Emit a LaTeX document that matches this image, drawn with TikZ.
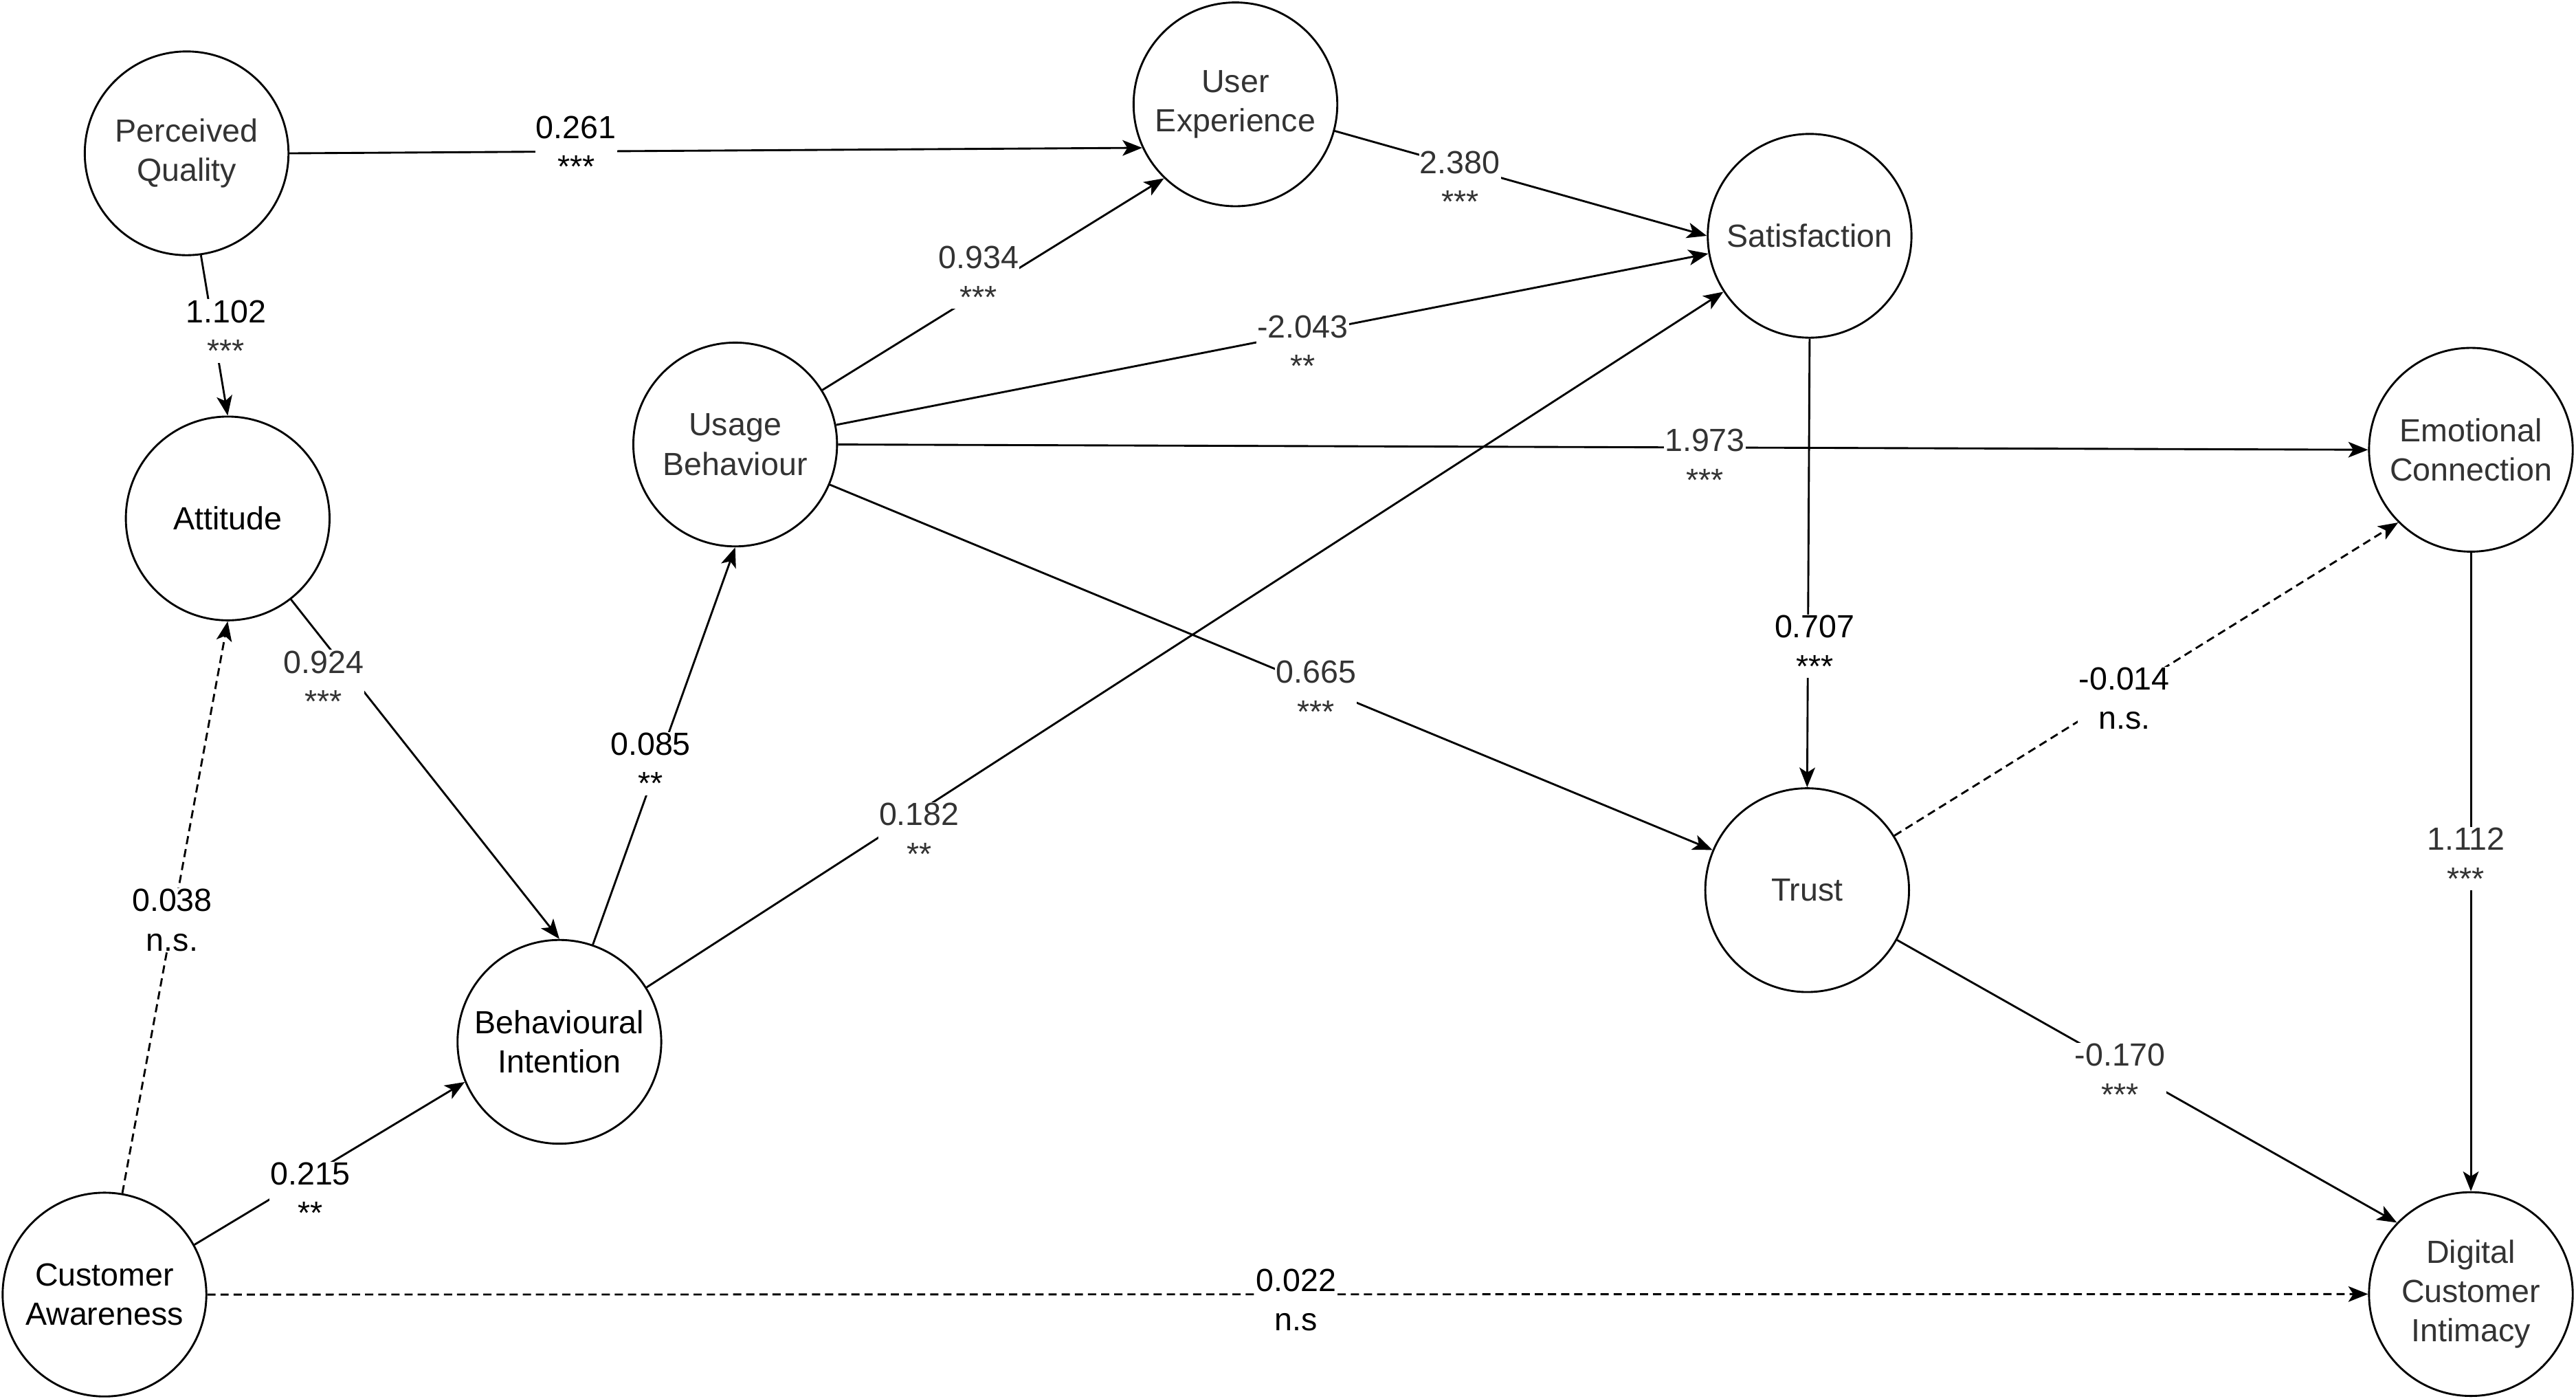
\documentclass[tikz,border=0pt]{standalone}
\usepackage{fontspec}
\setmainfont{Liberation Sans}
\usetikzlibrary{arrows.meta}
\definecolor{txtgray}{HTML}{333333}

\begin{document}
\begin{tikzpicture}[x=1pt, y=-1pt,
    latent/.style={circle, draw, line width=1.2pt, fill=white, minimum size=124pt, inner sep=0pt, align=center, font=\fontsize{19.5}{24}\selectfont},
    effect/.style={line width=1.2pt, -{Stealth[length=12pt, width=9.5pt, inset=3pt]}},
    nseffect/.style={effect, dash pattern=on 5pt off 3pt},
    coef/.style={fill=white, inner sep=0.5pt, align=center, font=\fontsize{19.5}{24}\selectfont}]
    \useasboundingbox (0,0) rectangle (1568,851);

    % constructs
    \node[latent, text=txtgray] (pq) at (113.6,93.3) {Perceived\\Quality};
    \node[latent, text=txtgray] (ue) at (752,63.5) {User\\Experience};
    \node[latent, text=txtgray] (sat) at (1101.5,143.5) {Satisfaction};
    \node[latent, text=txtgray] (ub) at (447.5,270.5) {Usage\\Behaviour};
    \node[latent] (att) at (138.6,315.5) {Attitude};
    \node[latent, text=txtgray] (ec) at (1504,273.7) {Emotional\\Connection};
    \node[latent, text=txtgray] (trust) at (1100,541.7) {Trust};
    \node[latent] (bi) at (340.5,634) {Behavioural\\Intention};
    \node[latent] (ca) at (63.6,787.8) {Customer\\Awareness};
    \node[latent, text=txtgray] (dci) at (1504,787.5) {Digital\\Customer\\Intimacy};

    % paths
    \draw[effect] (pq.east) -- (ue.205);
    \draw[effect] (pq.278) -- (att.north);
    \draw[effect] (ub.32) -- (ue.226);
    \draw[effect] (ub.11) -- (sat.190);
    \draw[effect] (ue.345) -- (sat.west);
    \draw[effect] (bi.32) -- (sat.213);
    \draw[effect] (bi.71) -- (ub.south);
    \draw[effect] (att.308) -- (bi.north);
    \draw[nseffect] (ca.80) -- (att.south);
    \draw[effect] (ca.29) -- (bi.203);
    \draw[nseffect] (ca.east) -- (dci.west);
    \draw[effect] (ub.east) -- (ec.west);
    \draw[effect] (ub.337) -- (trust.157);
    \draw[effect] (sat.south) -- (trust.north);
    \draw[nseffect] (trust.32) -- (ec.225);
    \draw[effect] (trust.331) -- (dci.136);
    \draw[effect] (ec.south) -- (dci.north);

    % coefficients
    \node[coef] (c-pq-ue) at (350.7,89.5) {0.261\\***};
    \node[coef] (c-pq-att) at (137.5,201.5) {1.102\\\textcolor{txtgray}{***}};
    \node[coef, text=txtgray] (c-ub-ue) at (595.6,168.7) {0.934\\***};
    \node[coef, text=txtgray] (c-ub-sat) at (793,210.8) {-2.043\\**};
    \node[coef, text=txtgray] (c-ue-sat) at (888.7,110.7) {2.380\\***};
    \node[coef, text=txtgray] (c-bi-sat) at (559.5,507.6) {0.182\\**};
    \node[coef] (c-bi-ub) at (396,464.7) {0.085\\**};
    \node[coef, text=txtgray] (c-att-bi) at (197,414.8) {0.924\\***};
    \node[coef] (c-ca-att) at (104.8,560) {0.038\\n.s.};
    \node[coef] (c-ca-bi) at (188.9,726.2) {0.215\\**};
    \node[coef] (c-ca-dci) at (789,791) {0.022\\n.s};
    \node[coef, text=txtgray] (c-ub-ec) at (1037.7,280) {1.973\\***};
    \node[coef, text=txtgray] (c-ub-tr) at (801,421) {0.665\\***};
    \node[coef] (c-sat-tr) at (1104.6,393.3) {0.707\\***};
    \node[coef] (c-tr-ec) at (1293,425) {-0.014\\n.s.};
    \node[coef, text=txtgray] (c-tr-dci) at (1290.5,654) {-0.170\\***};
    \node[coef, text=txtgray] (c-ec-dci) at (1501,522.6) {1.112\\***};
\end{tikzpicture}
\end{document}
